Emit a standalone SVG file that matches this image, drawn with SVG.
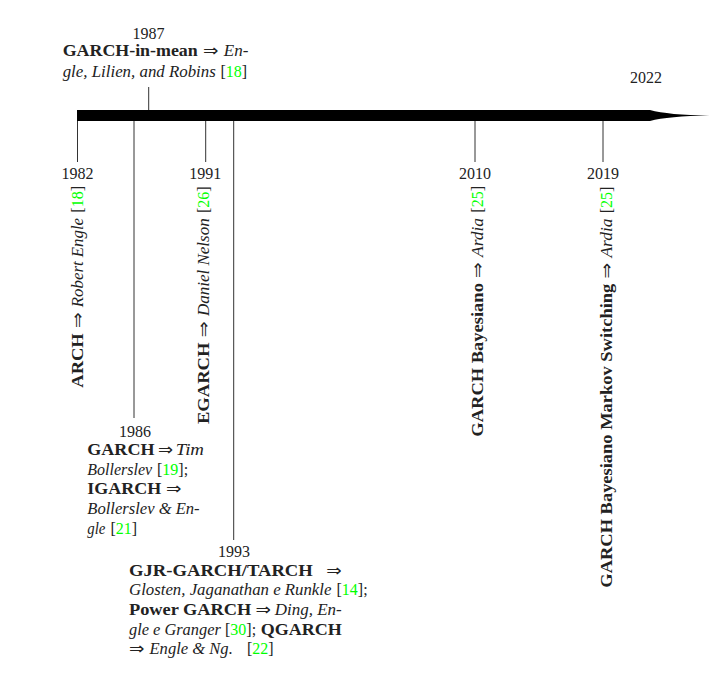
<svg xmlns="http://www.w3.org/2000/svg" width="723" height="673" viewBox="0 0 723 673">
<style>
.t{font-family:"Liberation Serif","Times New Roman",serif;fill:#222;font-size:16px}
.b{font-weight:bold}
.i{font-style:italic}
.g{fill:#00ff00}
.ar{font-family:"DejaVu Sans",sans-serif;font-weight:normal;font-style:normal}
.yr{text-anchor:middle}
.tick{stroke:#333;stroke-width:1;fill:none}
</style>
<rect width="723" height="673" fill="#fff"/>
<g id="timeline">
<path d="M77,110 H650 Q668,115 709.5,115.5 Q668,116 650,121 H77 Z" fill="#000"/>
<text class="t yr" x="646" y="83.3">2022</text>
</g>
<g id="connectors">
<line class="tick" x1="77.5" y1="121" x2="77.5" y2="162"/>
<line class="tick" x1="134" y1="121" x2="134" y2="418"/>
<line class="tick" x1="148.7" y1="87" x2="148.7" y2="110"/>
<line class="tick" x1="205.7" y1="121" x2="205.7" y2="162"/>
<line class="tick" x1="233.7" y1="121" x2="233.7" y2="540"/>
<line class="tick" x1="475" y1="121" x2="475" y2="162"/>
<line class="tick" x1="603" y1="121" x2="603" y2="162"/>
</g>
<g id="n1982">
<text class="t yr" x="77.5" y="179.3">1982</text>
<text class="t" transform="translate(83.3,387.7) rotate(-90)"><tspan class="b" x="0" textLength="54.4" lengthAdjust="spacingAndGlyphs">ARCH</tspan><tspan class="ar" x="59.6" textLength="15.7" lengthAdjust="spacingAndGlyphs">⇒</tspan><tspan class="i" x="80.5" textLength="89.3" lengthAdjust="spacingAndGlyphs">Robert Engle</tspan><tspan x="175">[</tspan><tspan class="g">18</tspan><tspan>]</tspan></text>
</g>
<g id="n1986">
<text class="t yr" x="134.9" y="436.7">1986</text>
<text class="t" y="455"><tspan class="b" x="87.3" textLength="67.2" lengthAdjust="spacingAndGlyphs">GARCH</tspan><tspan class="ar" x="158" textLength="15" lengthAdjust="spacingAndGlyphs">⇒</tspan><tspan class="i" x="175.7" textLength="28.3" lengthAdjust="spacingAndGlyphs">Tim</tspan></text>
<text class="t" y="474.5"><tspan class="i" x="87.3" textLength="64.8" lengthAdjust="spacingAndGlyphs">Bollerslev</tspan><tspan x="157">[</tspan><tspan class="g">19</tspan><tspan>];</tspan></text>
<text class="t" y="494"><tspan class="b" x="87.3" textLength="73.9" lengthAdjust="spacingAndGlyphs">IGARCH</tspan><tspan class="ar" x="166" textLength="15.4" lengthAdjust="spacingAndGlyphs">⇒</tspan></text>
<text class="t" y="514"><tspan class="i" x="87.3" textLength="112.3" lengthAdjust="spacingAndGlyphs">Bollerslev &amp; En-</tspan></text>
<text class="t" y="533.5"><tspan class="i" x="87.3" textLength="18.1" lengthAdjust="spacingAndGlyphs">gle</tspan><tspan x="110.5">[</tspan><tspan class="g">21</tspan><tspan>]</tspan></text>
</g>
<g id="n1987">
<text class="t yr" x="148.5" y="39">1987</text>
<text class="t" y="56"><tspan class="b" x="62.7" textLength="135" lengthAdjust="spacingAndGlyphs">GARCH-in-mean</tspan><tspan class="ar" x="203" textLength="15.4" lengthAdjust="spacingAndGlyphs">⇒</tspan><tspan class="i" x="223.8" textLength="24.6" lengthAdjust="spacingAndGlyphs">En-</tspan></text>
<text class="t" y="76.7"><tspan class="i" x="62.7" textLength="153.1" lengthAdjust="spacingAndGlyphs">gle, Lilien, and Robins</tspan><tspan x="220.5">[</tspan><tspan class="g">18</tspan><tspan>]</tspan></text>
</g>
<g id="n1991">
<text class="t yr" x="205.3" y="179.3">1991</text>
<text class="t" transform="translate(208.5,424) rotate(-90)"><tspan class="b" x="0" textLength="81.4" lengthAdjust="spacingAndGlyphs">EGARCH</tspan><tspan class="ar" x="86.7" textLength="15.9" lengthAdjust="spacingAndGlyphs">⇒</tspan><tspan class="i" x="107.9" textLength="97.8" lengthAdjust="spacingAndGlyphs">Daniel Nelson</tspan><tspan x="211">[</tspan><tspan class="g">26</tspan><tspan>]</tspan></text>
</g>
<g id="n1993">
<text class="t yr" x="234" y="556.7">1993</text>
<text class="t" y="576"><tspan class="b" x="129" textLength="183.8" lengthAdjust="spacingAndGlyphs">GJR-GARCH/TARCH</tspan><tspan class="ar" x="326.3" textLength="15.4" lengthAdjust="spacingAndGlyphs">⇒</tspan></text>
<text class="t" y="595.3"><tspan class="i" x="129" textLength="202.4" lengthAdjust="spacingAndGlyphs">Glosten, Jaganathan e Runkle</tspan><tspan x="336.5">[</tspan><tspan class="g">14</tspan><tspan>];</tspan></text>
<text class="t" y="615"><tspan class="b" x="129" textLength="122.3" lengthAdjust="spacingAndGlyphs">Power GARCH</tspan><tspan class="ar" x="255.5" textLength="15.4" lengthAdjust="spacingAndGlyphs">⇒</tspan><tspan class="i" x="274.7" textLength="67" lengthAdjust="spacingAndGlyphs">Ding, En-</tspan></text>
<text class="t" y="634.5"><tspan class="i" x="129" textLength="91.8" lengthAdjust="spacingAndGlyphs">gle e Granger</tspan><tspan x="225">[</tspan><tspan class="g">30</tspan><tspan>];</tspan><tspan class="b" x="260.7" textLength="81" lengthAdjust="spacingAndGlyphs">QGARCH</tspan></text>
<text class="t" y="653.5"><tspan class="ar" x="129" textLength="15.4" lengthAdjust="spacingAndGlyphs">⇒</tspan><tspan class="i" x="149.5" textLength="83.3" lengthAdjust="spacingAndGlyphs">Engle &amp; Ng.</tspan><tspan x="247">[</tspan><tspan class="g">22</tspan><tspan>]</tspan></text>
</g>
<g id="n2010">
<text class="t yr" x="475" y="179.3">2010</text>
<text class="t" transform="translate(483,436.7) rotate(-90)"><tspan class="b" x="0" textLength="153.6" lengthAdjust="spacingAndGlyphs">GARCH Bayesiano</tspan><tspan class="ar" x="158.8" textLength="15.7" lengthAdjust="spacingAndGlyphs">⇒</tspan><tspan class="i" x="179.7" textLength="39.1" lengthAdjust="spacingAndGlyphs">Ardia</tspan><tspan x="224">[</tspan><tspan class="g">25</tspan><tspan>]</tspan></text>
</g>
<g id="n2019">
<text class="t yr" x="603" y="179.3">2019</text>
<text class="t" transform="translate(611.5,587.7) rotate(-90)"><tspan class="b" x="0" textLength="304" lengthAdjust="spacingAndGlyphs">GARCH Bayesiano Markov Switching</tspan><tspan class="ar" x="309.2" textLength="15.7" lengthAdjust="spacingAndGlyphs">⇒</tspan><tspan class="i" x="330.1" textLength="39.1" lengthAdjust="spacingAndGlyphs">Ardia</tspan><tspan x="374.4">[</tspan><tspan class="g">25</tspan><tspan>]</tspan></text>
</g>
</svg>
